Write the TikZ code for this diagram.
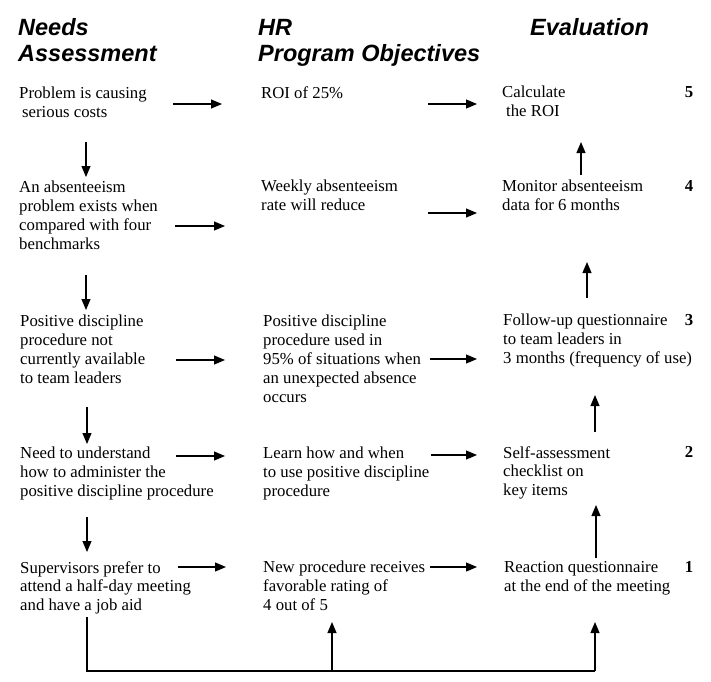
\documentclass[tikz,border=0pt]{standalone}
\usepackage{fontspec}
\setmainfont{Liberation Serif}
\newfontfamily\hdfont{Liberation Sans}
\usetikzlibrary{arrows.meta}
\begin{document}
\begin{tikzpicture}[x=1pt,y=-1pt,
  txt/.style={anchor=north west, inner sep=0pt, align=left, font=\fontsize{16.75}{18.8}\selectfont},
  hd/.style={anchor=north west, inner sep=0pt, align=left, font=\hdfont\bfseries\itshape\fontsize{23.5}{26}\selectfont},
  num/.style={anchor=north, inner sep=0pt, font=\bfseries\fontsize{16.75}{18.8}\selectfont},
  arr/.style={-{Triangle[length=11pt,width=9pt]}, line width=1.1pt},
  ln/.style={line width=1.1pt}]
\useasboundingbox (0,0) rectangle (711,681);

% headers
\node[hd] (h1) at (18,18.7) {Needs\\Assessment};
\node[hd] (h2) at (258,18.7) {HR\\Program Objectives};
\node[hd] (h3) at (530,18.7) {Evaluation};

% needs assessment column
\node[txt] (n1) at (19,87) {Problem is causing\\\hspace{3pt}serious costs};
\node[txt] (n2) at (19,181) {An absenteeism\\problem exists when\\compared with four\\benchmarks};
\node[txt] (n3) at (20,315) {Positive discipline\\procedure not\\currently available\\to team leaders};
\node[txt] (n4) at (20,447) {Need to understand\\how to administer the\\positive discipline procedure};
\node[txt] (n5) at (20,561) {Supervisors prefer to\\attend a half-day meeting\\and have a job aid};

% objectives column
\node[txt] (o1) at (261,87) {ROI of 25\%};
\node[txt] (o2) at (261,180) {Weekly absenteeism\\rate will reduce};
\node[txt] (o3) at (263,315) {Positive discipline\\procedure used in\\95\% of situations when\\an unexpected absence\\occurs};
\node[txt] (o4) at (263,447) {Learn how and when\\to use positive discipline\\procedure};
\node[txt] (o5) at (263,561) {New procedure receives\\favorable rating of\\4 out of 5};

% evaluation column
\node[txt] (e1) at (502,86) {Calculate\\\hspace{4pt}the ROI};
\node[txt] (e2) at (502,180) {Monitor absenteeism\\data for 6 months};
\node[txt] (e3) at (503,314) {Follow-up questionnaire\\to team leaders in\\3 months (frequency of use)};
\node[txt] (e4) at (503,446) {Self-assessment\\checklist on\\key items};
\node[txt] (e5) at (504,561) {Reaction questionnaire\\at the end of the meeting};

% level numbers
\node[num] (k5) at (689,86) {5};
\node[num] (k4) at (689,180) {4};
\node[num] (k3) at (689,314) {3};
\node[num] (k2) at (689,446) {2};
\node[num] (k1) at (689,561) {1};

% horizontal arrow end points
\coordinate (a1s) at (173,104); \coordinate (a1e) at (222,104);
\coordinate (b1s) at (428,104); \coordinate (b1e) at (477,104);
\coordinate (a2s) at (175,226); \coordinate (a2e) at (225,226);
\coordinate (b2s) at (428,213); \coordinate (b2e) at (477,213);
\coordinate (a3s) at (176,360); \coordinate (a3e) at (225,360);
\coordinate (b3s) at (430,359); \coordinate (b3e) at (477,359);
\coordinate (a4s) at (176,456); \coordinate (a4e) at (225,456);
\coordinate (b4s) at (431,455); \coordinate (b4e) at (477,455);
\coordinate (a5s) at (178,567); \coordinate (a5e) at (226,567);
\coordinate (b5s) at (430,567); \coordinate (b5e) at (477,567);

\foreach \r in {1,...,5}{
  \draw[arr] (a\r s) -- (a\r e);
  \draw[arr] (b\r s) -- (b\r e);
}

% vertical arrows, needs column
\coordinate (d1s) at (86,142); \coordinate (d1e) at (86,177);
\coordinate (d2s) at (86,275); \coordinate (d2e) at (86,310);
\coordinate (d3s) at (87,407); \coordinate (d3e) at (87,444);
\coordinate (d4s) at (87,517); \coordinate (d4e) at (87,552);
% vertical arrows, evaluation column
\coordinate (u4s) at (581,175); \coordinate (u4e) at (581,142);
\coordinate (u3s) at (587,298); \coordinate (u3e) at (587,262);
\coordinate (u2s) at (595,432); \coordinate (u2e) at (595,395);
\coordinate (u1s) at (596,558); \coordinate (u1e) at (596,505);
\foreach \r in {1,...,4}{
  \draw[arr] (d\r s) -- (d\r e);
  \draw[arr] (u\r s) -- (u\r e);
}

% bottom feedback line
\coordinate (ls) at (87,617);
\coordinate (lb) at (87,671);
\coordinate (lm) at (332,671);
\coordinate (lr) at (595,671);
\coordinate (mt) at (332,622);
\coordinate (rt) at (595,622);
\draw[ln] (ls) -- (lb) -- (lr);
\draw[arr] (lm) -- (mt);
\draw[arr] (lr) -- (rt);
\end{tikzpicture}
\end{document}
